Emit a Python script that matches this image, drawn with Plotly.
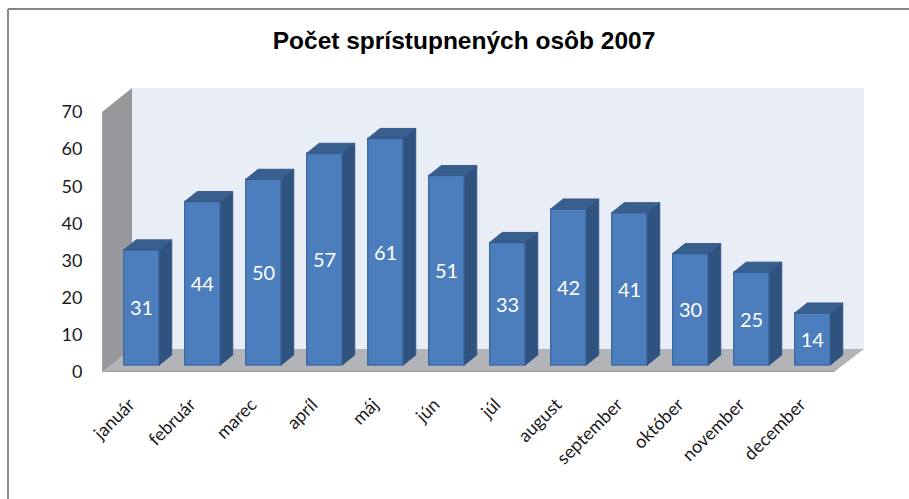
import plotly.graph_objects as go

months = ["január", "február", "marec", "apríl", "máj", "jún", "júl", "august",
          "september", "október", "november", "december"]
values = [31, 44, 50, 57, 61, 51, 33, 42, 41, 30, 25, 14]
y_ticks = [0, 10, 20, 30, 40, 50, 60, 70]
title = "<b>Počet sprístupnených osôb 2007</b>"

W, H = 909, 499
L, R, T, B = 102, 864, 88, 372
PX_Y = 260 / 70      # px per value unit
PX_X = 61.0          # px per category
xmax = (R - L) / PX_X
ymax = (B - T) / PX_Y
DX, DY = 30 / PX_X, 23 / PX_Y          # wall depth
BAR_W = 35.5 / PX_X
BDX, BDY = 12.5 / PX_X, 10 / PX_Y      # bar depth
INX, INY = 9 / PX_X, 7 / PX_Y          # bar inset from front of floor
LABEL_SHIFT = 12 / PX_X

centers = [i + 0.5 + INX for i in range(len(values))]
label_pos = [c - LABEL_SHIFT for c in centers]

side_x, side_y, top_x, top_y = [], [], [], []
for c, v in zip(centers, values):
    r, l = c + BAR_W / 2, c - BAR_W / 2
    side_x += [r, r + BDX, r + BDX, r, r, None]
    side_y += [INY, INY + BDY, INY + v + BDY, INY + v, INY, None]
    top_x += [l, l + BDX, r + BDX, r, l, None]
    top_y += [INY + v, INY + v + BDY, INY + v + BDY, INY + v, INY + v, None]

fig = go.Figure()
fig.add_trace(go.Bar(
    x=centers, y=values, base=INY, width=BAR_W,
    marker=dict(color="#4C7DBD", line=dict(color="#3F6CA5", width=1.5)),
    text=[str(v) for v in values], textposition="inside", insidetextanchor="middle",
    textangle=0, constraintext="none",
    textfont=dict(family="Lato", size=20, color="white"), showlegend=False, hoverinfo="skip",
))
fig.add_trace(go.Scatter(x=side_x, y=side_y, mode="lines", fill="toself", fillcolor="#2F527F",
                         line=dict(color="#36598A", width=1), showlegend=False, hoverinfo="skip"))
fig.add_trace(go.Scatter(x=top_x, y=top_y, mode="lines", fill="toself", fillcolor="#38608F",
                         line=dict(color="#36598A", width=1), showlegend=False, hoverinfo="skip"))

def poly(pts, color, line="rgba(0,0,0,0)"):
    path = "M " + " L ".join(f"{x},{y}" for x, y in pts) + " Z"
    return dict(type="path", path=path, xref="x", yref="y", layer="below",
                fillcolor=color, line=dict(color=line, width=1.5))

def px(x):
    return (x - L) / (R - L)

def py(y):
    return (B - y) / (B - T)

shapes = [
    poly([(DX, DY), (xmax, DY), (xmax, ymax), (DX, ymax)], "#E9EDF6"),
    poly([(0, 0), (xmax - DX, 0), (xmax, DY), (DX, DY)], "#B2B4B8"),
    poly([(0, 0), (DX, DY), (DX, ymax), (0, 70)], "#96989C"),
    dict(type="line", xref="x", yref="y", layer="below", x0=0, x1=xmax - DX, y0=0, y1=0,
         line=dict(color="#9A9C9F", width=2)),
    dict(type="line", xref="x", yref="y", layer="below", x0=0, x1=0, y0=0, y1=70,
         line=dict(color="#A6A8AB", width=2)),
    dict(type="line", xref="paper", yref="paper", layer="below",
         x0=px(8), x1=px(W), y0=py(9), y1=py(9), line=dict(color="#858585", width=2)),
    dict(type="line", xref="paper", yref="paper", layer="below",
         x0=px(8), x1=px(8), y0=py(9), y1=py(H), line=dict(color="#8E8E8E", width=2)),
]

fig.update_layout(
    width=W, height=H, autosize=False,
    margin=dict(l=L, r=W - R, t=T, b=H - B, pad=0),
    paper_bgcolor="white", plot_bgcolor="rgba(0,0,0,0)",
    shapes=shapes, showlegend=False,
    title=dict(text=title, x=464 / W, xanchor="center", y=1 - 40 / H, yanchor="middle",
               font=dict(family="Liberation Sans", size=24.5, color="black")),
    font=dict(family="Lato", color="#222222"),
    xaxis=dict(range=[0, xmax], tickmode="array", tickvals=label_pos, ticktext=months,
               tickangle=-45, ticks="outside", ticklen=14, tickcolor="rgba(0,0,0,0)",
               showgrid=False, zeroline=False, showline=False,
               tickfont=dict(family="Lato", size=18, color="#1A1A1A")),
    yaxis=dict(range=[0, ymax], tickmode="array", tickvals=y_ticks,
               ticks="outside", ticklen=15, tickcolor="rgba(0,0,0,0)",
               showgrid=False, zeroline=False, showline=False,
               tickfont=dict(family="Lato", size=18, color="#1A1A1A")),
)
fig.write_html("out.html", config={"displayModeBar": False},
               post_script="document.body.style.margin='0';document.body.style.overflow='hidden';")
